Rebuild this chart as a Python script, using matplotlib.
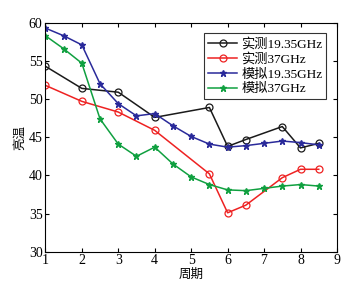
import matplotlib
matplotlib.use("Agg")
import matplotlib.pyplot as plt

plt.rcParams['font.family'] = ['Liberation Serif', 'Noto Sans CJK SC']
plt.rcParams['axes.unicode_minus'] = False

x_meas = [1, 2, 3, 4, 5.5, 6, 6.5, 7.5, 8, 8.5]
meas_19 = [54.3, 51.4, 50.9, 47.6, 48.9, 43.8, 44.7, 46.4, 43.6, 44.2]
meas_37 = [51.8, 49.7, 48.3, 45.9, 40.2, 35.1, 36.1, 39.7, 40.8, 40.8]

x_sim = [1, 1.5, 2, 2.5, 3, 3.5, 4, 4.5, 5, 5.5, 6, 6.5, 7, 7.5, 8, 8.5]
sim_19 = [59.3, 58.3, 57.1, 52.0, 49.4, 47.8, 48.1, 46.5, 45.1, 44.1, 43.7, 43.9, 44.2, 44.5, 44.3, 44.0]
sim_37 = [58.3, 56.6, 54.7, 47.4, 44.1, 42.5, 43.7, 41.5, 39.8, 38.8, 38.1, 38.0, 38.3, 38.6, 38.8, 38.6]

labels = ['实测19.35GHz', '实测37GHz', '模拟19.35GHz', '模拟37GHz']
xticks = [1, 2, 3, 4, 5, 6, 7, 8, 9]
yticks = [30, 35, 40, 45, 50, 55, 60]

fig = plt.figure(figsize=(3.6, 2.88), dpi=100)
ax = fig.add_axes([0.126, 0.126, 0.81, 0.795])

ax.plot(x_meas, meas_19, color='#1a1a1a', marker='o', mfc='none', ms=5, mew=0.9, lw=1.1, label=labels[0])
ax.plot(x_meas, meas_37, color='#ee2222', marker='o', mfc='none', ms=5, mew=0.9, lw=1.1, label=labels[1])
ax.plot(x_sim, sim_19, color='#2a2a9a', marker='*', ms=4.5, lw=1.1, label=labels[2])
ax.plot(x_sim, sim_37, color='#10a040', marker='*', ms=4.5, lw=1.1, label=labels[3])

ax.set_xlim(1, 9)
ax.set_ylim(30, 60)
ax.set_xticks(xticks)
ax.set_yticks(yticks)
ax.tick_params(direction='in', top=True, right=True, labelsize=10, length=3, pad=2)
ax.set_xlabel('周期', fontsize=9, labelpad=1)
ax.set_ylabel('亮温', fontsize=9, labelpad=2)

leg = ax.legend(loc='upper right', fontsize=9.5, frameon=True, fancybox=False,
                edgecolor='black', handlelength=2.2, borderpad=0.3, labelspacing=0.2,
                handletextpad=0.3, borderaxespad=0.8)
leg.get_frame().set_linewidth(0.8)

fig.savefig('out.png', dpi=100)
